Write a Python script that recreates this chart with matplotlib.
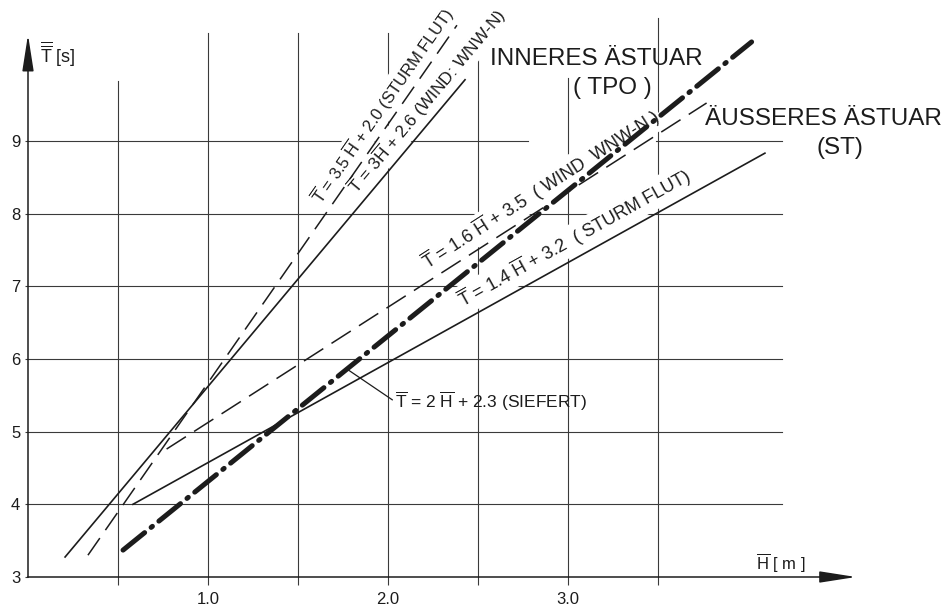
import matplotlib
matplotlib.use("Agg")
import matplotlib.pyplot as plt
import numpy as np

# line end points: H [m], T [s]
h_storm_inner = [0.333, 2.383]   # T = 3.5 H + 2.0 (Sturmflut), dashed
t_storm_inner = [3.30, 10.59]
h_wind_inner = [0.206, 2.428]    # T = 3 H + 2.6 (Wind WNW-N), solid
t_wind_inner = [3.275, 9.84]
h_wind_outer = [0.77, 3.77]      # T = 1.6 H + 3.5 (Wind WNW-N), dashed
t_wind_outer = [4.76, 9.52]
h_storm_outer = [0.583, 4.094]   # T = 1.4 H + 3.2 (Sturmflut), solid
t_storm_outer = [4.0, 8.83]
h_siefert = [0.528, 4.02]        # T = 2 H + 2.3 (Siefert), thick dash-dot
t_siefert = [3.37, 10.36]

x_grid = [0.5, 1.0, 1.5, 2.0, 2.5, 3.0, 3.5]
y_grid = [4, 5, 6, 7, 8, 9]
x_ticklabels = ["1.0", "2.0", "3.0"]
y_ticks = [3, 4, 5, 6, 7, 8, 9]

TB = r"$\overline{\mathrm{T}}$"
HB = r"$\overline{\mathrm{H}}$"

plt.rcParams["font.family"] = ["Liberation Sans", "DejaVu Sans"]
plt.rcParams["mathtext.fontset"] = "custom"
plt.rcParams["mathtext.rm"] = "Liberation Sans"
plt.rcParams["mathtext.it"] = "Liberation Sans:italic"
plt.rcParams["mathtext.bf"] = "Liberation Sans:bold"
plt.rcParams["lines.scale_dashes"] = False

INK = "#1c1c1c"
GRID = "#3a3a3a"

fig = plt.figure(figsize=(9.48, 6.08), dpi=100)
ax = fig.add_axes([28 / 948, 31 / 608, 828 / 948, 544 / 608])
ax.set_xlim(0, 4.6)
ax.set_ylim(3, 3 + 544 / 72.7)
ax.patch.set_alpha(0)

for s in ["top", "right"]:
    ax.spines[s].set_visible(False)
for s in ["left", "bottom"]:
    ax.spines[s].set_linewidth(1.1)
    ax.spines[s].set_color(INK)
ax.spines["left"].set_bounds(3, 10.2)
ax.spines["bottom"].set_bounds(0, 4.45)

ax.set_xticks([1, 2, 3], x_ticklabels)
ax.set_xticks([0.5, 1.5, 2.5, 3.5], minor=True)
ax.set_yticks(y_ticks, [str(v) for v in y_ticks])
ax.tick_params(axis="x", which="both", length=5.8, width=0.8, color=GRID,
               pad=5, labelsize=12, labelcolor=INK)
ax.tick_params(axis="y", length=2.5, width=0.8, color=GRID, pad=3,
               labelsize=12, labelcolor=INK)

# axis arrows
arrow = dict(arrowstyle="-|>,head_length=1.6,head_width=0.25", color=INK,
             lw=1.1, shrinkA=0, shrinkB=0, mutation_scale=14)
ax.annotate("", xy=(0, 10.46), xytext=(0, 10.0), arrowprops=arrow,
            annotation_clip=False)
ax.annotate("", xy=(4.6, 3), xytext=(4.4, 3), arrowprops=arrow,
            annotation_clip=False)

# grid, drawn only over the framed area (the 9 s line is broken in the drawing)
grid_top = [9.82, 10.48, 10.48, 10.48, 10.48, 9.86, 10.69]
for xv, top in zip(x_grid, grid_top):
    ax.plot([xv, xv], [3, top], color=GRID, lw=0.8, zorder=1, clip_on=False)
for yv in y_grid:
    spans = [(0, 2.78), (3.49, 4.19)] if yv == 9 else [(0, 4.19)]
    for a, b in spans:
        ax.plot([a, b], [yv, yv], color=GRID, lw=0.8, zorder=1, clip_on=False)

# regression lines
ax.plot(h_storm_inner, t_storm_inner, color=INK, lw=1.1, dashes=(15, 7),
        zorder=4, clip_on=False)
ax.plot(h_wind_inner, t_wind_inner, color=INK, lw=1.2, zorder=4, clip_on=False)
ax.plot(h_wind_outer, t_wind_outer, color=INK, lw=1.1, dashes=(16.5, 7),
        zorder=4, clip_on=False)
ax.plot(h_storm_outer, t_storm_outer, color=INK, lw=1.2, zorder=4, clip_on=False)
ax.plot(h_siefert, t_siefert, color=INK, lw=3.6, dashes=(20, 6, 1.2, 6),
        dash_capstyle="round", zorder=5, clip_on=False)


def slope(h, t):
    return (t[1] - t[0]) / (h[1] - h[0])


def line_label(x, y, text, h, t, size):
    ang = np.degrees(np.arctan(slope(h, t)))
    ax.text(x, y, text, rotation=ang, transform_rotates_text=True,
            rotation_mode="anchor", ha="left", va="baseline", fontsize=size,
            color=INK, zorder=3,
            bbox=dict(boxstyle="square,pad=0.12", fc="white", ec="none"))


line_label(1.633, 8.117, TB + " = 3.5 " + HB + " + 2.0 (STURM FLUT)",
           h_storm_inner, t_storm_inner, 12)
line_label(1.828, 8.255, TB + " = 3" + HB + " + 2.6 (WIND: WNW-N)",
           h_wind_inner, t_wind_inner, 12.5)
line_label(2.222, 7.223, TB + " = 1.6 " + HB + " + 3.5  ( WIND  WNW-N )",
           h_wind_outer, t_wind_outer, 13)
line_label(2.417, 6.70, TB + " = 1.4 " + HB + " + 3.2  ( STURM FLUT)",
           h_storm_outer, t_storm_outer, 13)

# Siefert label with leader line
h_lead = 1.772
t_lead = t_siefert[0] + slope(h_siefert, t_siefert) * (h_lead - h_siefert[0])
ax.annotate(TB + " = 2 " + HB + " + 2.3 (SIEFERT)", xy=(h_lead, t_lead),
            xytext=(2.04, 5.41), ha="left", va="center", fontsize=12.5,
            color=INK, zorder=3,
            arrowprops=dict(arrowstyle="-", color=INK, lw=0.9, shrinkA=0,
                            shrinkB=0, relpos=(0, 0.5)))

# axis titles
ax.text(0.067, 10.19, r"$\overline{\overline{\mathrm{T}}}$ [s]", ha="left",
        va="center", fontsize=13, color=INK, clip_on=False)
ax.text(4.18, 3.19, HB + " [ m ]", ha="center", va="center", fontsize=12,
        color=INK, clip_on=False)

# region labels
big = dict(ha="center", va="center", fontsize=17.5, color=INK, zorder=3,
           clip_on=False)
ax.text(3.156, 10.125, "INNERES ÄSTUAR", **big)
ax.text(3.244, 9.73, "( TPO )", **big)
ax.text(4.417, 9.30, "ÄUSSERES ÄSTUAR", **big)
ax.text(4.51, 8.90, "(ST)", **big)

fig.savefig("out.png", dpi=100, facecolor="white")
